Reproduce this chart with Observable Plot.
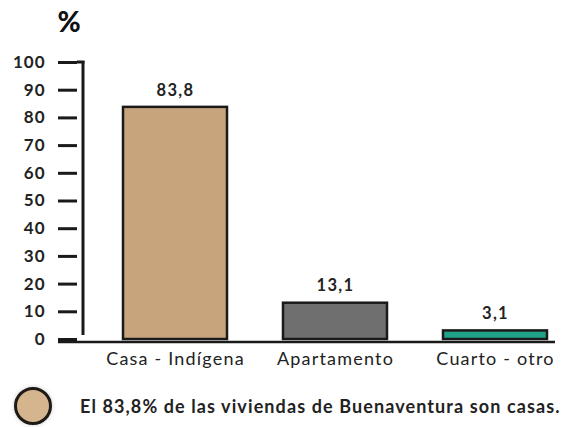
<!DOCTYPE html>
<html>
<head>
<meta charset="utf-8">
<script src="https://cdn.jsdelivr.net/npm/d3@7"></script>
<script src="https://cdn.jsdelivr.net/npm/@observablehq/plot@0.6"></script>
<style>
  body { margin: 0; background: #fff; font-family: Lato, sans-serif; }
  #wrap { width: 563px; height: 427px; position: relative; overflow: hidden; }
  #caption { position: absolute; left: 0; top: 382px; width: 563px; height: 48px; display: flex; align-items: center; }
  #caption .dot { width: 32px; height: 32px; border-radius: 50%; background: #d5b58e; border: 3px solid #1e1a16; margin-left: 14px; box-shadow: 0 0 4px #ccc; }
  #caption .txt { margin-left: 28px; font-size: 18px; font-weight: 700; color: #222; white-space: nowrap; letter-spacing: 1.1px; }
  #chart g[aria-label="x-axis tick label"] text { letter-spacing: 1.2px; }
  #chart g[aria-label="y-axis tick label"] text { letter-spacing: 1px; }
  #chart g.vals text { letter-spacing: 1.3px; }
</style>
</head>
<body>
<div id="wrap">
  <div id="chart"></div>
  <div id="caption"><div class="dot"></div><div class="txt">El 83,8% de las viviendas de Buenaventura son casas.</div></div>
</div>
<script>
const categories = ["Casa - Indígena", "Apartamento", "Cuarto - otro"];
const values = [83.8, 13.1, 3.1];
const barColors = ["#c8a47d", "#6f6f6f", "#1fa287"];
const yTicks = [0, 10, 20, 30, 40, 50, 60, 70, 80, 90, 100];
const yLabel = "%";

const rows = categories.map((c, i) => ({category: c, value: values[i]}));
const esFmt = d3.formatLocale({decimal: ",", thousands: ".", grouping: [3], currency: ["", ""]}).format(".1f");

const axisLines = (index, scales, values, dimensions) => {
  const g = d3.create("svg:g").attr("stroke", "#1a1a1a").attr("fill", "none");
  const x0 = dimensions.marginLeft;
  const yTop = scales.y(100), yBot = scales.y(0);
  g.append("line").attr("x1", x0).attr("x2", x0).attr("y1", yTop - 1).attr("y2", yBot - 4).attr("stroke-width", 3);
  g.append("line").attr("x1", x0 - 6).attr("x2", x0 + 1.5).attr("y1", yTop).attr("y2", yTop).attr("stroke-width", 3);
  g.append("line").attr("x1", x0 - 25).attr("x2", dimensions.width - 8).attr("y1", yBot + 3).attr("y2", yBot + 3).attr("stroke-width", 2.5);
  return g.node();
};

const chart = Plot.plot({
  width: 563,
  height: 382,
  marginLeft: 83,
  marginRight: 0,
  marginTop: 62,
  marginBottom: 43,
  style: {fontFamily: "Lato, sans-serif", color: "#222", background: "#fff"},
  x: {type: "band", domain: categories, paddingInner: 0.353, paddingOuter: 0.17, align: 0.71, label: null},
  y: {domain: [0, 100], label: null},
  color: {domain: categories, range: barColors},
  marks: [
    Plot.barY(rows, {x: "category", y: "value", fill: "category", stroke: "#1a1a1a", strokeWidth: 2.5}),
    Plot.text(rows, {x: "category", y: "value", text: d => esFmt(d.value), dy: -17, fontSize: 16.5, fontWeight: 700, fill: "#222", className: "vals"}),
    Plot.axisY({ticks: yTicks, tickSize: 19, dx: -6, tickPadding: 13, fontSize: 17, fontWeight: 700, stroke: "#1a1a1a", strokeWidth: 3, label: null, tickFormat: d => String(d)}),
    Plot.axisX({tickSize: 0, tickPadding: 13, fontSize: 18, label: null}),
    Plot.text([yLabel], {frameAnchor: "top-left", text: d => d, dx: -26, dy: -50, fontSize: 28, fontWeight: 900, fill: "#111"}),
    axisLines
  ]
});
document.getElementById("chart").appendChild(chart);
</script>
</body>
</html>
